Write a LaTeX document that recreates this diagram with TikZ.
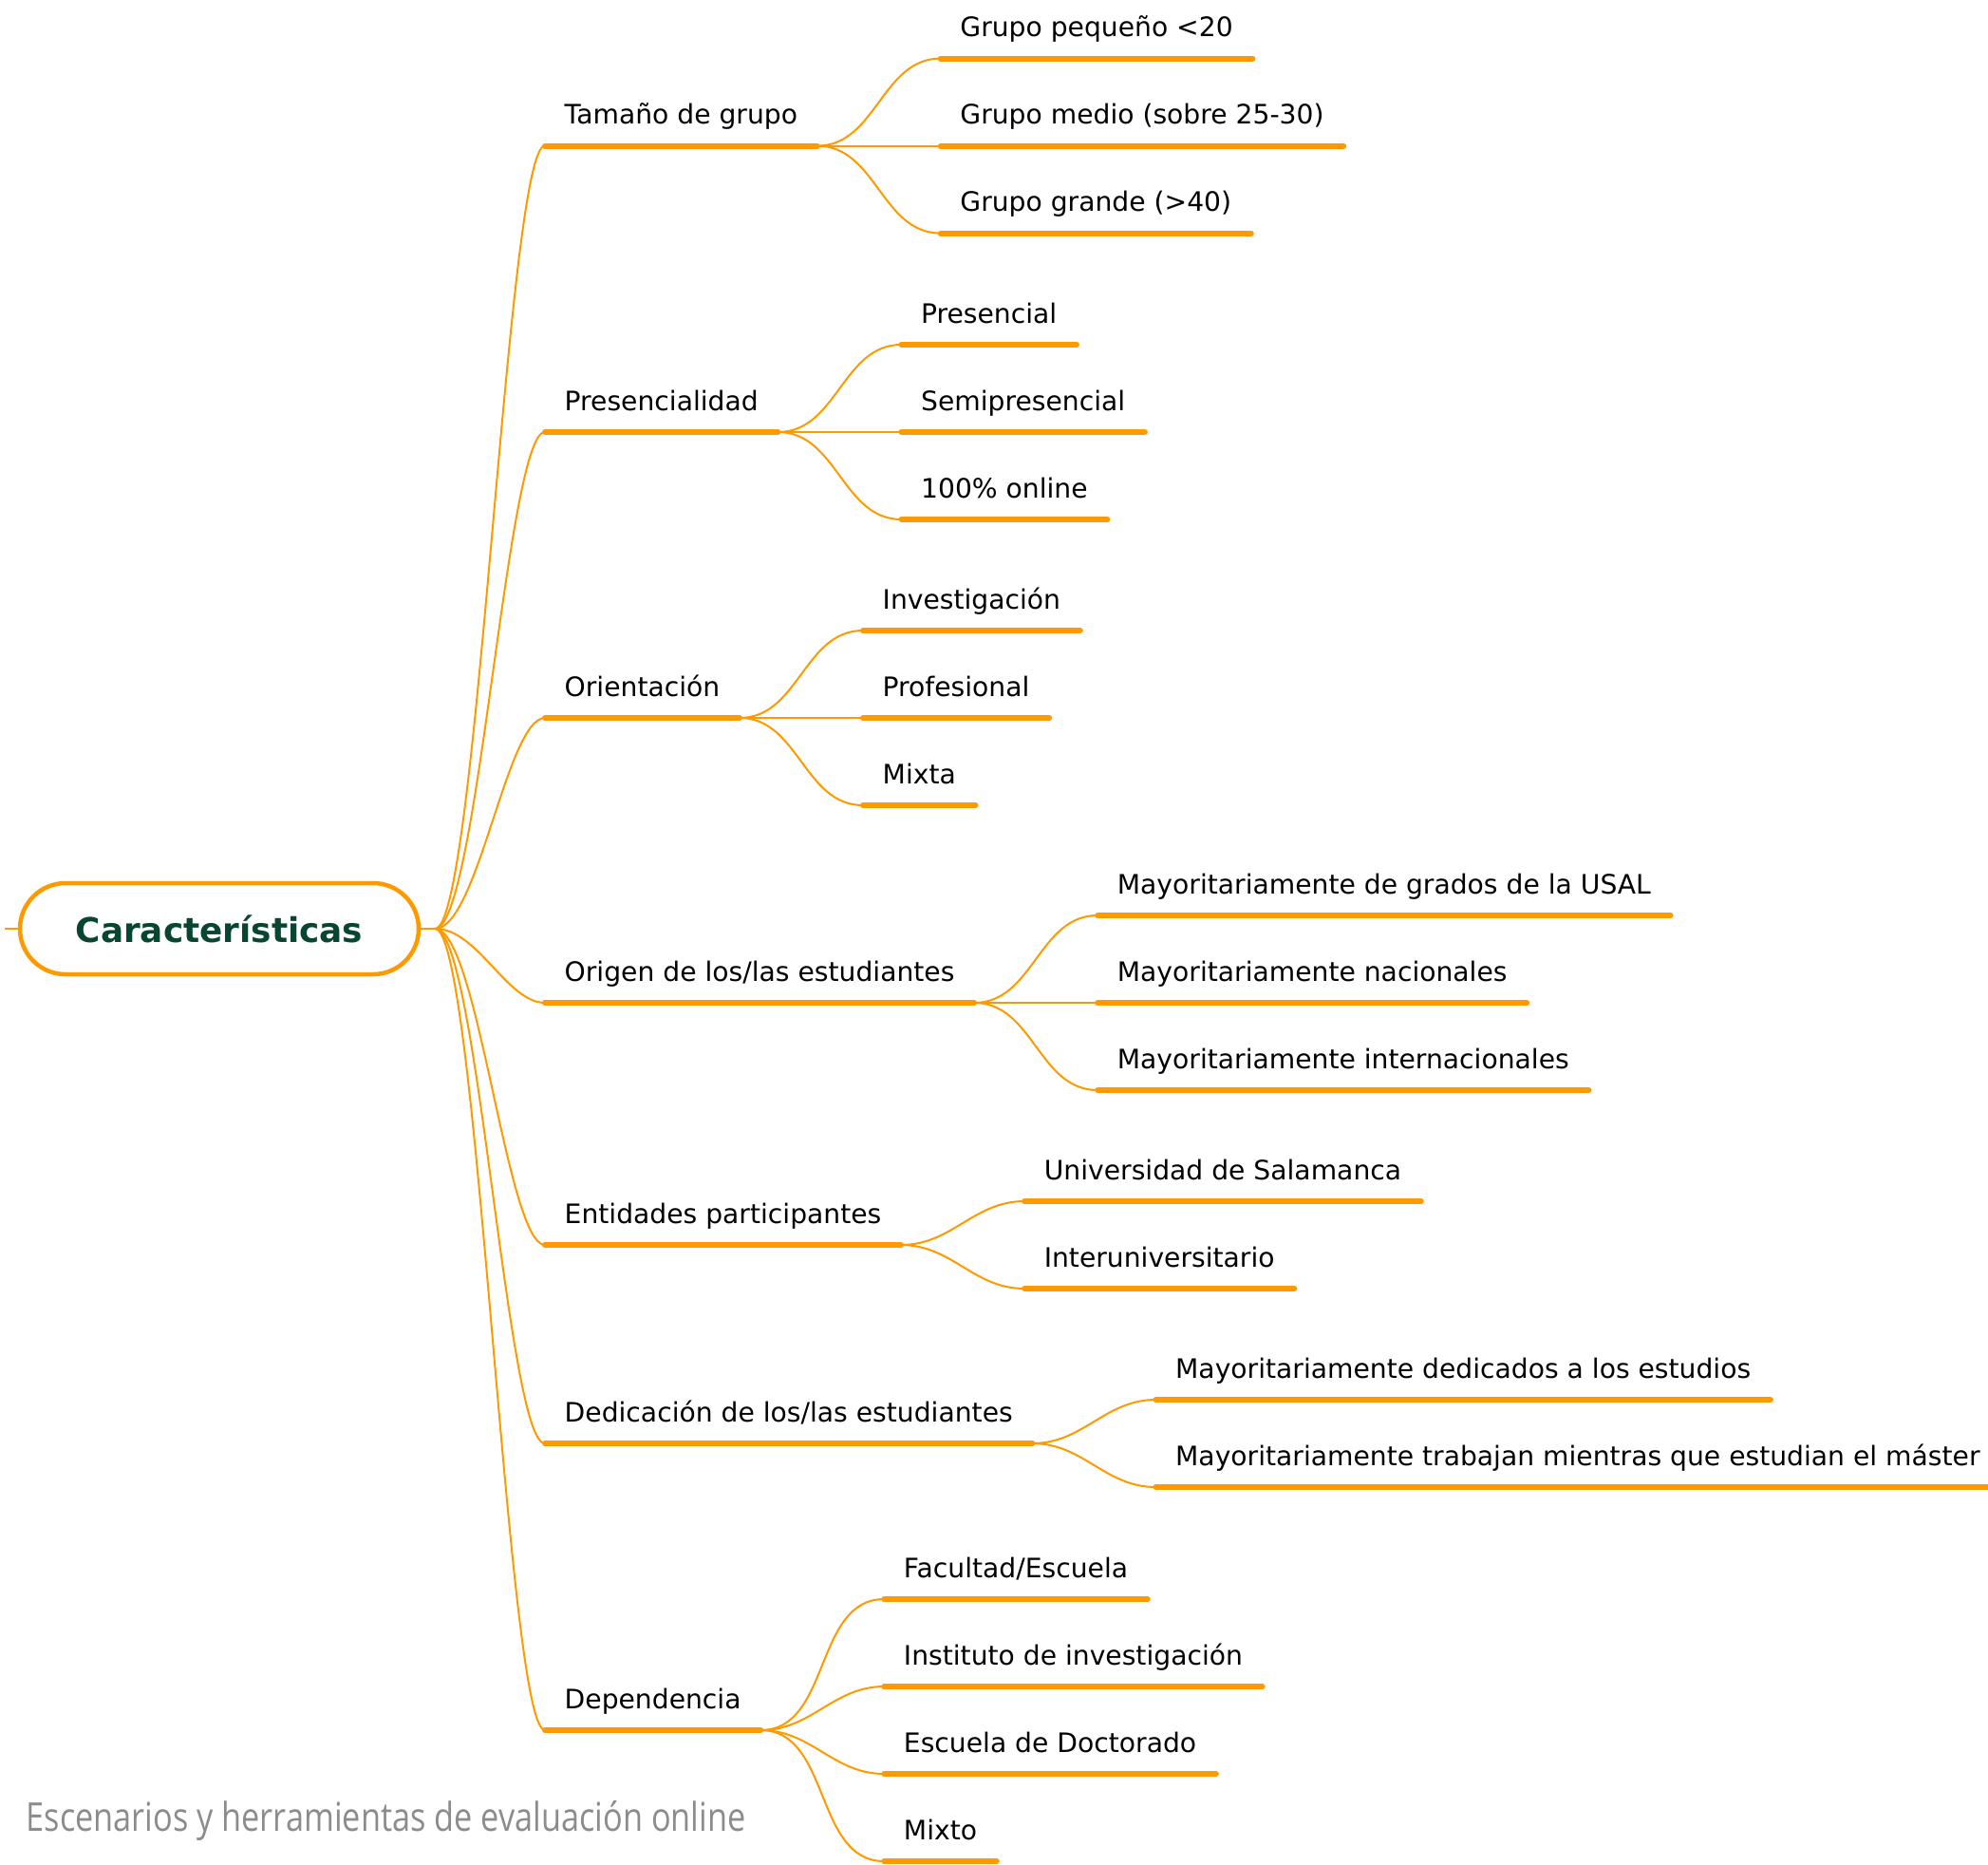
\documentclass[tikz,border=0pt]{standalone}
\usepackage{fontspec}
\setmainfont{DejaVu Sans}
\newfontfamily\footfont[FakeStretch=0.82]{Open Sans}
\usetikzlibrary{positioning, calc}
\definecolor{mmorange}{HTML}{FF9900}
\definecolor{mmgreen}{HTML}{084632}
\definecolor{mmgrey}{HTML}{8C8C8C}

\begin{document}
\begin{tikzpicture}
  \newcommand\childgap{1.30}
  \newcommand\branchx{5.74}
  \newcommand\hubgap{0.15}

  \tikzset{topic/.style={inner xsep=0.2cm, inner ysep=0, text depth=0.22cm, anchor=south west, font=\fontsize{8.02pt}{9pt}\selectfont}}
  \tikzset{topicline/.style={draw=mmorange, line width=0.06cm, line cap=round}}
  \tikzset{link/.style={draw=mmorange, line width=0.02cm}}
  \tikzset{rootnode/.style={draw=mmorange, line width=0.045cm, rounded corners=0.48cm, minimum width=4.2cm, minimum height=0.96cm, text=mmgreen, font=\bfseries\fontsize{10.2pt}{12pt}\selectfont}}

  \useasboundingbox (0, 0) rectangle (20.94, -19.63);

  % central topic
  \node[rootnode] (root) at (2.31, -9.78) {Características};
  \coordinate[right=\hubgap of root] (hub);
  \coordinate[left=0.14 of root] (stub);
  \draw[link] (stub) -- (root);
  \draw[link] (root) -- (hub);

  % main branches
  \foreach \name/\ypos/\txt in {t1/1.536/Tamaño de grupo, t2/4.55/Presencialidad, t3/7.56/Orientación, t4/10.56/{Origen de los/las estudiantes}, t5/13.11/Entidades participantes, t6/15.20/{Dedicación de los/las estudiantes}, t7/18.22/Dependencia}{
    \node[topic] (\name) at (\branchx, -\ypos) {\txt};
    \draw[topicline] (\name.south west) -- (\name.south east);
    \draw[link] (hub) .. controls +(0.45, 0) and +(-0.4, 0) .. (\name.south west);
  }

  % subtopics
  \foreach \dy/\txt [count=\x from 1] in {0.92/Grupo pequeño <20, 0/Grupo medio (sobre 25-30), -0.92/Grupo grande (>40)}{
    \node[topic, above right=\dy and \childgap of t1.south east] (t1-\x) {\txt};
    \draw[topicline] (t1-\x.south west) -- (t1-\x.south east);
    \draw[link] (t1.south east) to[out=0, in=180] (t1-\x.south west);
  }

  \foreach \dy/\txt [count=\x from 1] in {0.92/Presencial, 0/Semipresencial, -0.92/100\% online}{
    \node[topic, above right=\dy and \childgap of t2.south east] (t2-\x) {\txt};
    \draw[topicline] (t2-\x.south west) -- (t2-\x.south east);
    \draw[link] (t2.south east) to[out=0, in=180] (t2-\x.south west);
  }

  \foreach \dy/\txt [count=\x from 1] in {0.92/Investigación, 0/Profesional, -0.92/Mixta}{
    \node[topic, above right=\dy and \childgap of t3.south east] (t3-\x) {\txt};
    \draw[topicline] (t3-\x.south west) -- (t3-\x.south east);
    \draw[link] (t3.south east) to[out=0, in=180] (t3-\x.south west);
  }

  \foreach \dy/\txt [count=\x from 1] in {0.92/Mayoritariamente de grados de la USAL, 0/Mayoritariamente nacionales, -0.92/Mayoritariamente internacionales}{
    \node[topic, above right=\dy and \childgap of t4.south east] (t4-\x) {\txt};
    \draw[topicline] (t4-\x.south west) -- (t4-\x.south east);
    \draw[link] (t4.south east) to[out=0, in=180] (t4-\x.south west);
  }

  \foreach \dy/\txt [count=\x from 1] in {0.46/Universidad de Salamanca, -0.46/Interuniversitario}{
    \node[topic, above right=\dy and \childgap of t5.south east] (t5-\x) {\txt};
    \draw[topicline] (t5-\x.south west) -- (t5-\x.south east);
    \draw[link] (t5.south east) to[out=0, in=180] (t5-\x.south west);
  }

  \foreach \dy/\txt [count=\x from 1] in {0.46/Mayoritariamente dedicados a los estudios, -0.46/Mayoritariamente trabajan mientras que estudian el máster}{
    \node[topic, above right=\dy and \childgap of t6.south east] (t6-\x) {\txt};
    \draw[topicline] (t6-\x.south west) -- (t6-\x.south east);
    \draw[link] (t6.south east) to[out=0, in=180] (t6-\x.south west);
  }

  \foreach \dy/\txt [count=\x from 1] in {1.38/{Facultad/Escuela}, 0.46/Instituto de investigación, -0.46/Escuela de Doctorado, -1.38/Mixto}{
    \node[topic, above right=\dy and \childgap of t7.south east] (t7-\x) {\txt};
    \draw[topicline] (t7-\x.south west) -- (t7-\x.south east);
    \draw[link] (t7.south east) to[out=0, in=180] (t7-\x.south west);
  }

  % footer
  \node[anchor=base west, inner sep=0, text=mmgrey, font=\footfont\fontsize{11.9pt}{14pt}\selectfont] (footer) at (0.27, -19.28) {Escenarios y herramientas de evaluación online};
\end{tikzpicture}
\end{document}
